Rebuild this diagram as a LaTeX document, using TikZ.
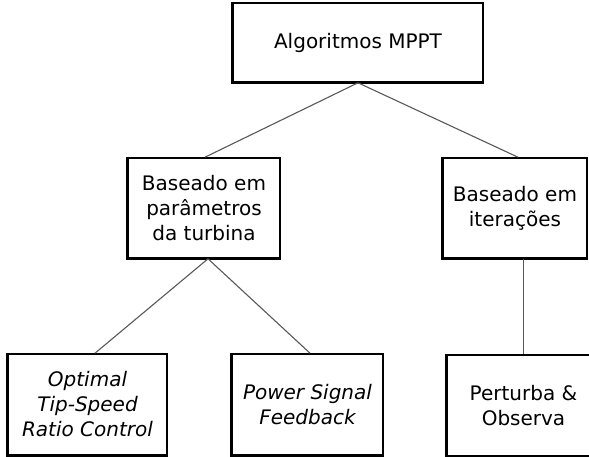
\documentclass[tikz,border=0pt]{standalone}
\usepackage{fontspec}
\setmainfont{DejaVu Sans}
\usetikzlibrary{positioning}

\begin{document}
\begin{tikzpicture}[x=1pt,y=-1pt,
    box/.style={draw=black,line width=1.6pt,fill=white,align=center,
      inner sep=0pt,font=\fontsize{20}{25}\selectfont},
    link/.style={draw=black!65,line width=1.1pt}]
      \useasboundingbox[fill=white] (0,0) rectangle (589,457);
      % caixas
      \node[box,minimum width=250,minimum height=79] (top) at (358,42.5) {Algoritmos MPPT};
      \node[box,minimum width=152,minimum height=100] (ml) at (204,208) {Baseado em\\parâmetros\\da turbina};
      \node[box,minimum width=144,minimum height=100] (mr) at (515,208) {Baseado em\\iterações};
      \node[box,minimum width=159,minimum height=101] (bl) at (87.5,404.5) {\itshape Optimal\\\itshape Tip-Speed\\\itshape Ratio Control};
      \node[box,minimum width=151,minimum height=101] (bm) at (307.5,404.5) {\itshape Power Signal\\\itshape Feedback};
      \node[box,minimum width=153,minimum height=101] (br) at (523.5,405.5) {Perturba \&\\Observa};
      % borda grossa esquerda/inferior
      \foreach \n in {top,ml,mr,bl,bm,br}
        \draw[line width=3.2pt] (\n.north west) -- (\n.south west) -- (\n.south east);
      % ligacoes
      \draw[link] (top.south) -- ([xshift=1]ml.north);
      \draw[link] (top.south) -- ([xshift=3]mr.north);
      \draw[link] ([xshift=4]ml.south) -- ([xshift=7.5]bl.north);
      \draw[link] ([xshift=4]ml.south) -- ([xshift=2.5]bm.north);
      \draw[link] (br.north |- mr.south) -- (br.north);
    \end{tikzpicture}
\end{document}
